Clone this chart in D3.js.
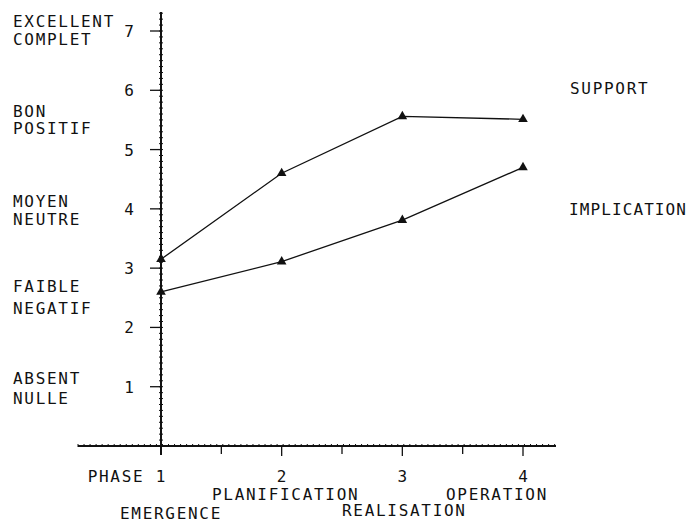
<!DOCTYPE html>
<html><head><meta charset="utf-8">
<script src="https://cdn.jsdelivr.net/npm/d3@7"></script>
<style>
html,body{margin:0;padding:0;background:#fff;}
text{font-family:"DejaVu Sans Mono",monospace;font-size:16px;fill:#111;letter-spacing:1.7px;}
</style></head>
<body><svg id="c" width="692" height="524"></svg>
<script>
// ---- data ----
const phases = [1, 2, 3, 4];
const phaseNumbers = ["PHASE 1", "2", "3", "4"];
const phaseNames = ["EMERGENCE", "PLANIFICATION", "REALISATION", "OPERATION"];
const support = [3.15, 4.6, 5.56, 5.51];
const implication = [2.6, 3.11, 3.81, 4.7];
const yTicks = [1, 2, 3, 4, 5, 6, 7];
const levelTop = ["EXCELLENT", "BON", "MOYEN", "FAIBLE", "ABSENT"];
const levelBottom = ["COMPLET", "POSITIF", "NEUTRE", "NEGATIF", "NULLE"];
const levelTopValue = [7.07, 5.55, 4.03, 2.6, 1.04];
const levelBottomValue = [6.77, 5.26, 3.73, 2.23, 0.71];
const seriesNames = ["SUPPORT", "IMPLICATION"];

// ---- layout ----
const svg = d3.select("#c");
const x = d3.scaleLinear().domain([1, 4]).range([161, 523]);
const y = d3.scaleLinear().domain([0, 7]).range([446, 31]);
const axisX0 = 78, axisX1 = 556;
const axisYTop = 12, axisYBottom = 455;

const g = svg.append("g").attr("stroke", "#111").attr("fill", "none");

// axes lines
g.append("line").attr("x1", x(1)).attr("x2", x(1)).attr("y1", axisYTop).attr("y2", axisYBottom).attr("stroke-width", 2);
g.append("line").attr("x1", axisX0).attr("x2", axisX1).attr("y1", y(0)).attr("y2", y(0)).attr("stroke-width", 2);

// y minor ticks
const yMinor = d3.range(0, 7.35, 0.1);
g.selectAll(".ym").data(yMinor).enter().append("line")
  .attr("x1", x(1) - 2).attr("x2", x(1) + 2)
  .attr("y1", d => y(d)).attr("y2", d => y(d)).attr("stroke-width", 1);
// y major ticks
g.selectAll(".yM").data(yTicks).enter().append("line")
  .attr("x1", x(1) - 11).attr("x2", x(1))
  .attr("y1", d => y(d)).attr("y2", d => y(d)).attr("stroke-width", 1.3);

// x minor ticks
const xMinor = d3.range(x.invert(axisX0), x.invert(axisX1), 0.05);
g.selectAll(".xm").data(xMinor).enter().append("line")
  .attr("x1", d => x(d)).attr("x2", d => x(d))
  .attr("y1", y(0) - 2).attr("y2", y(0) + 1).attr("stroke-width", 1);
// x half ticks and major ticks
const xHalf = [1.5, 2.5, 3.5];
g.selectAll(".xh").data(xHalf).enter().append("line")
  .attr("x1", d => x(d)).attr("x2", d => x(d))
  .attr("y1", y(0)).attr("y2", y(0) + 8).attr("stroke-width", 1.3);
g.selectAll(".xM").data(phases.slice(1)).enter().append("line")
  .attr("x1", d => x(d)).attr("x2", d => x(d))
  .attr("y1", y(0)).attr("y2", y(0) + 10).attr("stroke-width", 1.3);

// y tick labels
svg.selectAll(".yl").data(yTicks).enter().append("text")
  .attr("x", 129).attr("y", d => y(d) + 6).attr("text-anchor", "middle")
  .style("letter-spacing", "0px").text(d => d);

// level labels
svg.selectAll(".lt").data(levelTop).enter().append("text")
  .attr("x", 13).attr("y", (d, i) => y(levelTopValue[i])).text(d => d);
svg.selectAll(".lb").data(levelBottom).enter().append("text")
  .attr("x", 13).attr("y", (d, i) => y(levelBottomValue[i])).text(d => d);

// phase number labels
svg.selectAll(".pn").data(phaseNumbers).enter().append("text")
  .attr("x", (d, i) => i === 0 ? x(phases[i]) + 6 : x(phases[i]))
  .attr("y", 482)
  .attr("text-anchor", (d, i) => i === 0 ? "end" : "middle")
  .style("letter-spacing", (d, i) => i === 0 ? "1.7px" : "0px")
  .text(d => d);
// phase names
const nameDx = [10, 4, 2, -26];
const nameY = [519, 500, 516, 500];
svg.selectAll(".pname").data(phaseNames).enter().append("text")
  .attr("x", (d, i) => x(phases[i]) + nameDx[i])
  .attr("y", (d, i) => nameY[i])
  .attr("text-anchor", "middle").text(d => d);

// series lines
const line = d3.line().x((d, i) => x(phases[i])).y(d => y(d));
[support, implication].forEach(s => {
  svg.append("path").datum(s).attr("d", line)
    .attr("fill", "none").attr("stroke", "#111").attr("stroke-width", 1.3);
  svg.selectAll(null).data(s).enter().append("path")
    .attr("d", d3.symbol().type(d3.symbolTriangle).size(40))
    .attr("transform", (d, i) => `translate(${x(phases[i])},${y(d)})`)
    .attr("fill", "#111");
});

// series labels
svg.append("text").attr("x", 570).attr("y", 94).text(seriesNames[0]);
svg.append("text").attr("x", 569).attr("y", 215).style("letter-spacing", "1.1px").text(seriesNames[1]);
</script></body></html>
